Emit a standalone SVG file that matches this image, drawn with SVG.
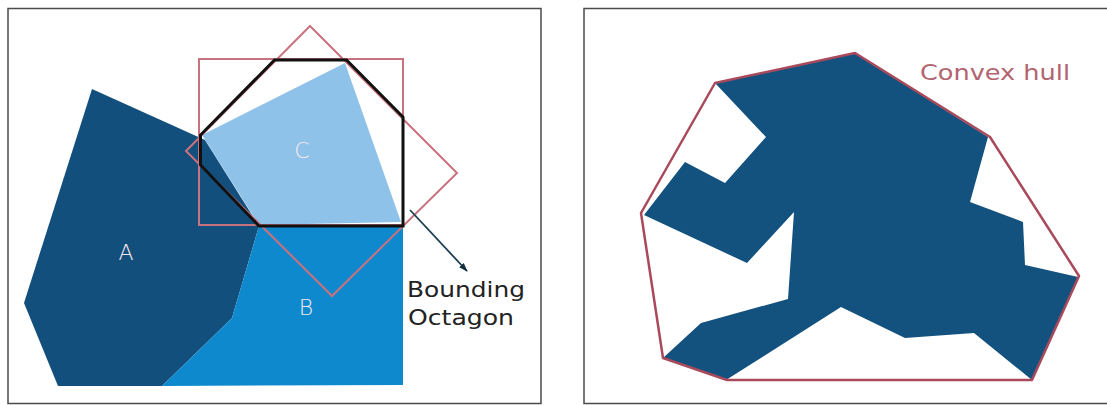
<svg xmlns="http://www.w3.org/2000/svg" width="1107" height="405" viewBox="0 0 1107 405">
<defs>
<style>
.frame{fill:#fff;stroke:#4a4a4a;stroke-width:1.5}
.bbox{fill:none;stroke:#c9727f;stroke-width:2}
.lbl{font-family:"DejaVu Sans",sans-serif;font-size:22px;font-weight:200;fill:#f6e8ef;text-anchor:middle}
.note{font-family:"DejaVu Sans",sans-serif;font-size:21px;fill:#222}
</style>
<marker id="ah" viewBox="0 0 10 10" refX="9" refY="5" markerWidth="9" markerHeight="9" orient="auto" markerUnits="userSpaceOnUse">
<path d="M0,1.5 L10,5 L0,8.5 z" fill="#142f3e"/>
</marker>
</defs>
<rect width="1107" height="405" fill="#fff"/>
<g id="left-panel">
<rect class="frame" x="8" y="8.5" width="533" height="395"/>
</g>
<g id="right-panel">
<rect class="frame" x="584" y="8.5" width="530" height="395"/>
</g>
<g id="shape-A">
<polygon points="92,89 205,140 259,226 232,318 162,386 58,386 24,303" fill="#134f7c"/>
</g>
<g id="shape-B">
<polygon points="259,226 403,226 403,385 162,386 232,318" fill="#0f89cd"/>
</g>
<g id="shape-C">
<polygon points="202,135 345,63 401,222 259,225" fill="#8ec2e9"/>
</g>
<g id="bounding-square">
<rect class="bbox" x="199" y="59" width="204" height="166"/>
</g>
<g id="bounding-diamond">
<polygon class="bbox" points="310,26 457,173 332,296 186,151"/>
</g>
<g id="bounding-octagon">
<polygon points="274.5,60 346.5,60 403,117 403,226 259,226 200.5,165 200.5,135" fill="none" stroke="#111" stroke-width="3" stroke-linejoin="miter"/>
</g>
<g id="labels">
<text class="lbl" x="126" y="260">A</text>
<text class="lbl" x="302" y="158">C</text>
<text class="lbl" x="306" y="315">B</text>
</g>
<g id="connectors">
<line x1="410" y1="210" x2="467" y2="271" stroke="#1d3f52" stroke-width="1.8" marker-end="url(#ah)"/>
</g>
<g id="bounding-octagon-label">
<text class="note" x="407" y="297" textLength="118" lengthAdjust="spacingAndGlyphs">Bounding</text>
<text class="note" x="408" y="325" textLength="106" lengthAdjust="spacingAndGlyphs">Octagon</text>
</g>
<g id="blob">
<polygon points="715,83 855,53 988,137 970,202 1023,222 1025,265 1078,277 1032,380 974,333 905,338 841,307 726,380 663,358 701,323 788,299 794,212 747,263 644,215 685,162 725,183 766,137" fill="#13527e"/>
</g>
<g id="convex-hull">
<polygon points="715,83 855,53 990,137 1079,276 1032,380 727,380 663,358 641,213" fill="none" stroke="#a94a5c" stroke-width="2.5" stroke-linejoin="round"/>
<text x="920" y="80" font-family="DejaVu Sans, sans-serif" font-size="21" fill="#b2646f" textLength="150" lengthAdjust="spacingAndGlyphs">Convex hull</text>
</g>
</svg>
